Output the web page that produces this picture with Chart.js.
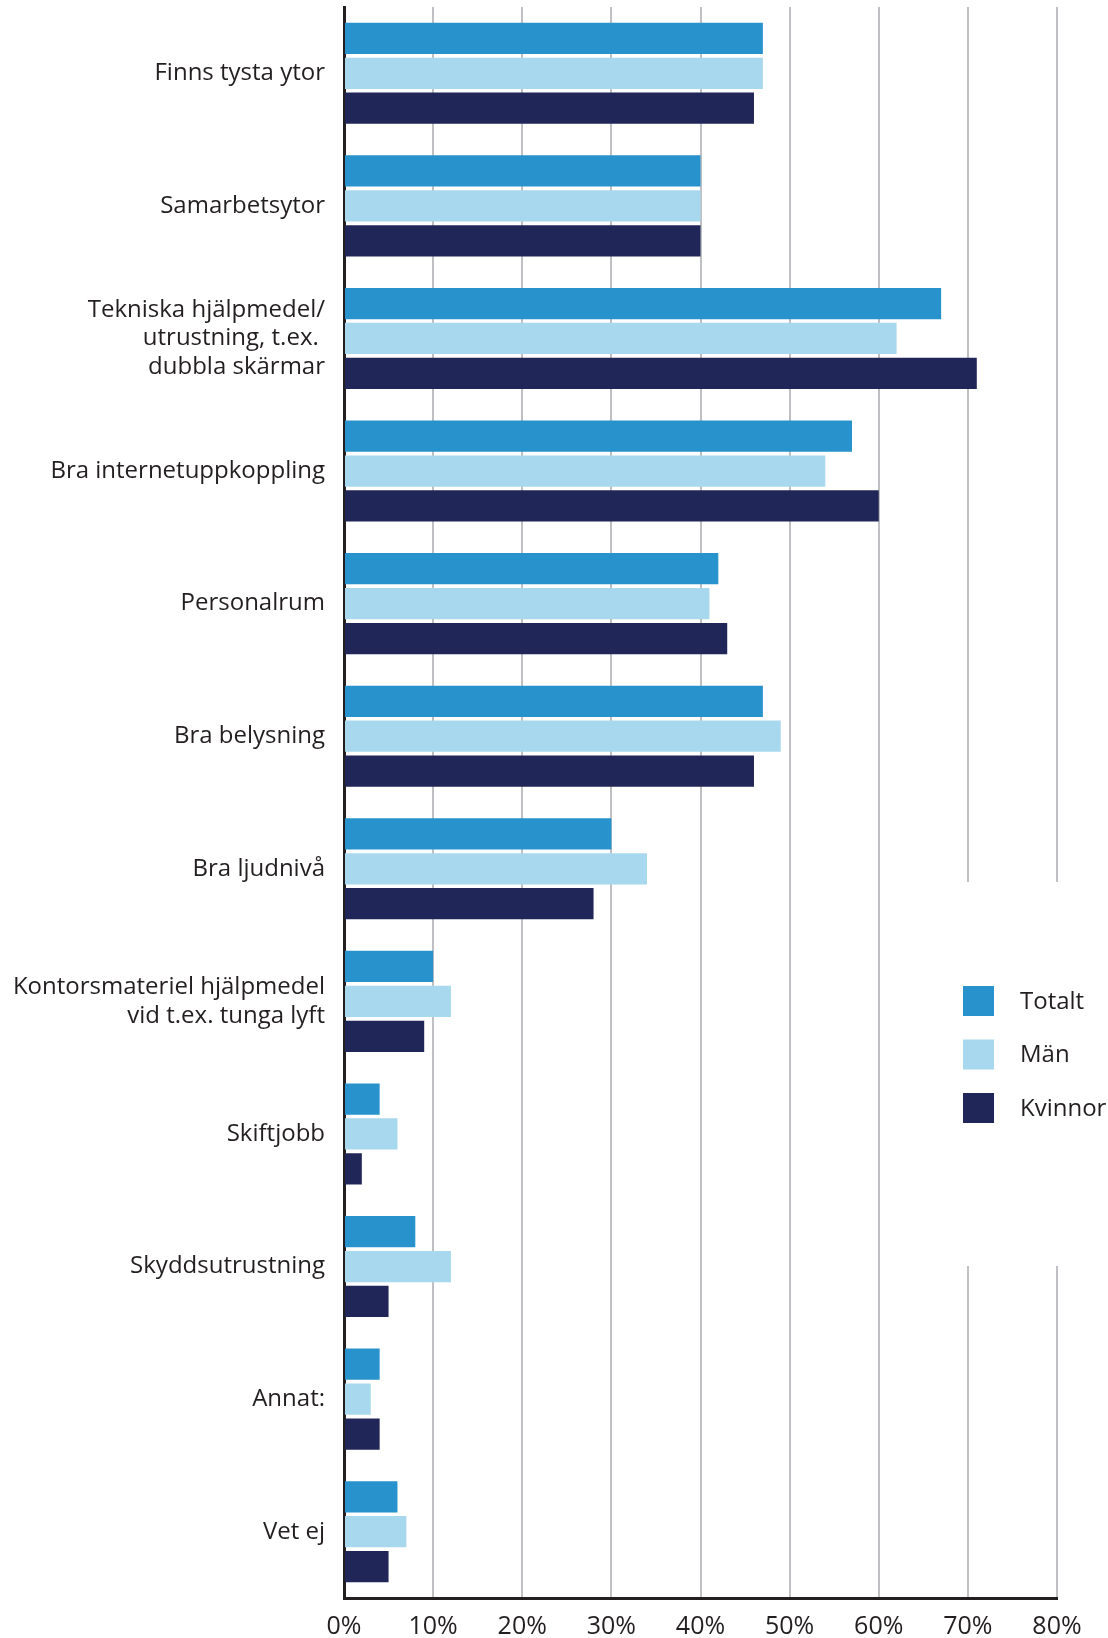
<!DOCTYPE html>
<html lang="sv">
<head>
<meta charset="utf-8">
<title>Arbetsplatsens utrustning</title>
<script src="https://cdn.jsdelivr.net/npm/chart.js@4.4.1/dist/chart.umd.min.js"></script>
<style>
    html, body { margin: 0; padding: 0; background: #ffffff; }
    #wrap { width: 1108px; height: 1638px; }
</style>
</head>
<body>
<div id="wrap"><canvas id="work-chart" width="1108" height="1638"></canvas></div>
<script>
'use strict';

// Categories (multi-line labels as arrays)
const categories = [
    'Finns tysta ytor',
    'Samarbetsytor',
    ['Tekniska hjälpmedel/', 'utrustning, t.ex. ', 'dubbla skärmar'],
    'Bra internetuppkoppling',
    'Personalrum',
    'Bra belysning',
    'Bra ljudnivå',
    ['Kontorsmateriel hjälpmedel', 'vid t.ex. tunga lyft'],
    'Skiftjobb',
    'Skyddsutrustning',
    'Annat:',
    'Vet ej'
];

// Series values (percent)
const totalt  = [47, 40, 67, 57, 42, 47, 30, 10, 4, 8, 4, 6];
const man     = [47, 40, 62, 54, 41, 49, 34, 12, 6, 12, 3, 7];
const kvinnor = [46, 40, 71, 60, 43, 46, 28, 9, 2, 5, 4, 5];

const seriesNames = ['Totalt', 'Män', 'Kvinnor'];
const xTicks = [0, 10, 20, 30, 40, 50, 60, 70, 80];

const COLORS = ['#2892CD', '#A8D8ED', '#202657'];
const TEXT = '#231F20';
const GRID = '#BFC0C4';

// Legend drawn in a white box that breaks the right-most gridlines
const boxLegend = {
    id: 'boxLegend',
    afterDraw(chart) {
        const ctx = chart.ctx;
        ctx.save();
        ctx.fillStyle = '#ffffff';
        ctx.fillRect(900, 882, chart.width - 900, 384);
        ctx.font = "24px 'Open Sans'";
        ctx.textBaseline = 'middle';
        ctx.textAlign = 'left';
        chart.data.datasets.forEach((ds, i) => {
            const y = 986 + i * 53.5;
            ctx.fillStyle = ds.backgroundColor;
            ctx.fillRect(963, y, 31, 30);
            ctx.fillStyle = TEXT;
            ctx.fillText(ds.label, 1020, y + 16);
        });
        ctx.restore();
    }
};

function renderChart() {
    const ctx = document.getElementById('work-chart').getContext('2d');

    Chart.defaults.font.family = "'Open Sans', 'DejaVu Sans', sans-serif";
    Chart.defaults.color = TEXT;

    new Chart(ctx, {
        type: 'bar',
        data: {
            labels: categories,
            datasets: [totalt, man, kvinnor].map((values, i) => ({
                label: seriesNames[i],
                data: values,
                backgroundColor: COLORS[i],
                borderWidth: 0,
                categoryPercentage: 0.79,
                barPercentage: 0.895
            }))
        },
        options: {
            responsive: false,
            animation: false,
            indexAxis: 'y',
            layout: { padding: { top: 7, right: 51, left: 0, bottom: 0 } },
            scales: {
                x: {
                    min: 0,
                    max: 80,
                    afterBuildTicks: (scale) => {
                        scale.ticks = xTicks.map(v => ({ value: v }));
                    },
                    afterFit: (scale) => { scale.height = 40; },
                    ticks: {
                        color: TEXT,
                        padding: 14,
                        font: { size: 25 },
                        callback: (value) => value + '%'
                    },
                    grid: {
                        drawTicks: false,
                        lineWidth: 2,
                        color: (c) => (c.tick && c.tick.value === 0) ? 'rgba(0,0,0,0)' : GRID
                    },
                    border: { display: true, color: TEXT, width: 3 }
                },
                y: {
                    z: 1,
                    afterFit: (scale) => {
                        scale.width = 344;
                        scale.paddingTop = 0;
                        scale.paddingBottom = 0;
                    },
                    ticks: {
                        color: TEXT,
                        padding: 19,
                        autoSkip: false,
                        font: { size: 24, lineHeight: 1.2 }
                    },
                    grid: { display: false, drawTicks: false },
                    border: { display: true, color: TEXT, width: 3 }
                }
            },
            plugins: {
                legend: { display: false },
                tooltip: { enabled: false }
            }
        },
        plugins: [boxLegend]
    });
}

if (document.fonts && document.fonts.load) {
    document.fonts.load("24px 'Open Sans'").then(renderChart, renderChart);
} else {
    renderChart();
}
</script>
</body>
</html>
